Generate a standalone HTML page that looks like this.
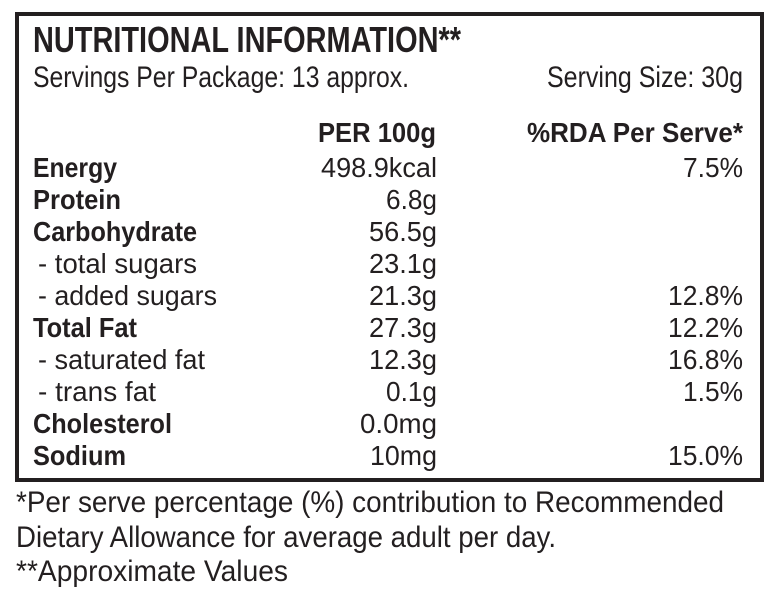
<!DOCTYPE html>
<html><head><meta charset="utf-8"><style>
html,body{margin:0;padding:0;background:#fff;}
svg{display:block;}
text{font-family:"Liberation Sans",sans-serif;fill:#231f20;}
.b{font-weight:bold;font-size:28px;}
.r{font-size:28px;}
</style></head><body>
<svg width="770" height="597" viewBox="0 0 770 597" xmlns="http://www.w3.org/2000/svg">
<rect x="17" y="14" width="745" height="466" fill="none" stroke="#231f20" stroke-width="4"/>
<text x="33" y="52" font-weight="bold" font-size="36" textLength="428" lengthAdjust="spacingAndGlyphs">NUTRITIONAL INFORMATION**</text>
<text font-size="30" x="33" y="87" textLength="376" lengthAdjust="spacingAndGlyphs">Servings Per Package: 13 approx.</text>
<text font-size="30" x="743" y="87" text-anchor="end" textLength="196" lengthAdjust="spacingAndGlyphs">Serving Size: 30g</text>
<text class="b" x="436" y="142" text-anchor="end" textLength="118" lengthAdjust="spacingAndGlyphs">PER 100g</text>
<text class="b" x="743" y="142" text-anchor="end" textLength="216" lengthAdjust="spacingAndGlyphs">%RDA Per Serve*</text>

<text class="b" x="33" y="177" textLength="84" lengthAdjust="spacingAndGlyphs">Energy</text>
<text class="b" x="33" y="209" textLength="88" lengthAdjust="spacingAndGlyphs">Protein</text>
<text class="b" x="33" y="241" textLength="164" lengthAdjust="spacingAndGlyphs">Carbohydrate</text>
<text class="r" x="38" y="273" textLength="159" lengthAdjust="spacingAndGlyphs">- total sugars</text>
<text class="r" x="38" y="305" textLength="179" lengthAdjust="spacingAndGlyphs">- added sugars</text>
<text class="b" x="33" y="337" textLength="104" lengthAdjust="spacingAndGlyphs">Total Fat</text>
<text class="r" x="38" y="369" textLength="167" lengthAdjust="spacingAndGlyphs">- saturated fat</text>
<text class="r" x="38" y="401" textLength="118" lengthAdjust="spacingAndGlyphs">- trans fat</text>
<text class="b" x="33" y="433" textLength="139" lengthAdjust="spacingAndGlyphs">Cholesterol</text>
<text class="b" x="33" y="465" textLength="93" lengthAdjust="spacingAndGlyphs">Sodium</text>

<g text-anchor="end">
<text class="r" x="437" y="177" textLength="116" lengthAdjust="spacingAndGlyphs">498.9kcal</text>
<text class="r" x="437" y="209" textLength="51" lengthAdjust="spacingAndGlyphs">6.8g</text>
<text class="r" x="437" y="241" textLength="68" lengthAdjust="spacingAndGlyphs">56.5g</text>
<text class="r" x="437" y="273" textLength="68" lengthAdjust="spacingAndGlyphs">23.1g</text>
<text class="r" x="437" y="305" textLength="68" lengthAdjust="spacingAndGlyphs">21.3g</text>
<text class="r" x="437" y="337" textLength="68" lengthAdjust="spacingAndGlyphs">27.3g</text>
<text class="r" x="437" y="369" textLength="68" lengthAdjust="spacingAndGlyphs">12.3g</text>
<text class="r" x="437" y="401" textLength="51" lengthAdjust="spacingAndGlyphs">0.1g</text>
<text class="r" x="437" y="433" textLength="77" lengthAdjust="spacingAndGlyphs">0.0mg</text>
<text class="r" x="437" y="465" textLength="67" lengthAdjust="spacingAndGlyphs">10mg</text>

<text class="r" x="743" y="177" textLength="60" lengthAdjust="spacingAndGlyphs">7.5%</text>
<text class="r" x="743" y="305" textLength="75" lengthAdjust="spacingAndGlyphs">12.8%</text>
<text class="r" x="743" y="337" textLength="75" lengthAdjust="spacingAndGlyphs">12.2%</text>
<text class="r" x="743" y="369" textLength="75" lengthAdjust="spacingAndGlyphs">16.8%</text>
<text class="r" x="743" y="401" textLength="60" lengthAdjust="spacingAndGlyphs">1.5%</text>
<text class="r" x="743" y="465" textLength="75" lengthAdjust="spacingAndGlyphs">15.0%</text>
</g>

<text font-size="30" x="16" y="512" textLength="708" lengthAdjust="spacingAndGlyphs">*Per serve percentage (%) contribution to Recommended</text>
<text font-size="30" x="16" y="547" textLength="540" lengthAdjust="spacingAndGlyphs">Dietary Allowance for average adult per day.</text>
<text font-size="30" x="16" y="581" textLength="272" lengthAdjust="spacingAndGlyphs">**Approximate Values</text>
</svg>
</body></html>
